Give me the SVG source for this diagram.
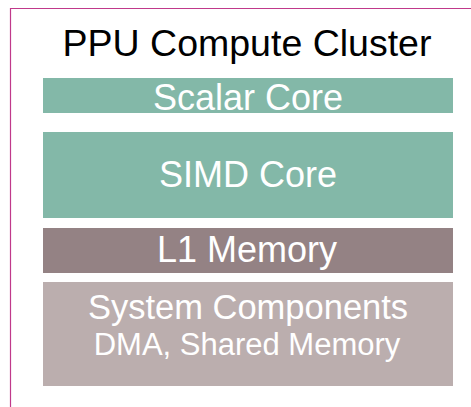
<svg xmlns="http://www.w3.org/2000/svg" width="471" height="407" viewBox="0 0 471 407">
  <style>
    .frame { fill: none; stroke: #c0398b; stroke-width: 1.2; }
    .title { font-family: "Liberation Sans", Arial, sans-serif; font-size: 37.5px; fill: #000; text-anchor: middle; }
    .label { font-family: "Liberation Sans", Arial, sans-serif; font-size: 36px; fill: #fff; text-anchor: middle; }
    .big { font-family: "Liberation Sans", Arial, sans-serif; font-size: 34.5px; fill: #fff; text-anchor: middle; }
    .sub { font-family: "Liberation Sans", Arial, sans-serif; font-size: 31px; fill: #fff; text-anchor: middle; }
    .core { fill: #83b8a8; }
    .mem { fill: #948284; }
    .sys { fill: #bbaeae; }
  </style>
  <rect width="471" height="407" fill="#ffffff"/>
  <!-- cluster outline, open to the right and bottom -->
  <g id="cluster">
    <path class="frame" d="M10.5,420 V8.5 H480"/>
    <text class="title" x="247" y="56">PPU Compute Cluster</text>
  </g>
  <g id="scalar-core">
    <rect class="core" x="43" y="78" width="410" height="35"/>
    <text class="label" x="248" y="109.5">Scalar Core</text>
  </g>
  <g id="simd-core">
    <rect class="core" x="43" y="132" width="410" height="86"/>
    <text class="label" x="248" y="187">SIMD Core</text>
  </g>
  <g id="l1-memory">
    <rect class="mem" x="43" y="228" width="410" height="45"/>
    <text class="label" x="247" y="262">L1 Memory</text>
  </g>
  <g id="system-components">
    <rect class="sys" x="43" y="282" width="410" height="104"/>
    <text class="big" x="248" y="319">System Components</text>
    <text class="sub" x="247" y="355">DMA, Shared Memory</text>
  </g>
  <g id="connectors"/>
</svg>
